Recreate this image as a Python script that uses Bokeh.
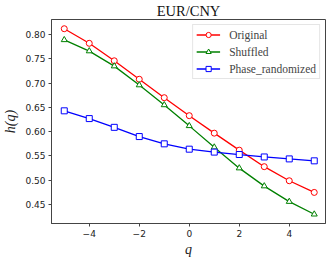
from bokeh.plotting import figure
from bokeh.embed import file_html
from bokeh.resources import INLINE
from bokeh.models import Range1d, FixedTicker, Legend, LegendItem

q = [-5, -4, -3, -2, -1, 0, 1, 2, 3, 4, 5]
original = [0.812, 0.782, 0.746, 0.708, 0.670, 0.633, 0.597, 0.562, 0.528, 0.499, 0.475]
shuffled = [0.789, 0.766, 0.735, 0.696, 0.655, 0.612, 0.568, 0.525, 0.488, 0.456, 0.430]
phase = [0.643, 0.627, 0.609, 0.590, 0.575, 0.564, 0.558, 0.553, 0.548, 0.544, 0.540]
x_ticks = [-4, -2, 0, 2, 4]
y_ticks = [0.45, 0.50, 0.55, 0.60, 0.65, 0.70, 0.75, 0.80]

p = figure(width=331, height=259, output_backend="svg", toolbar_location=None,
           x_range=Range1d(-5.51, 5.45), y_range=Range1d(0.411, 0.831),
           min_border_left=42, min_border_right=6, min_border_top=18, min_border_bottom=30,
           title="EUR/CNY")
p.title.align = "center"
p.title.text_font = "Liberation Serif"
p.title.text_font_size = "14.5px"
p.title.text_font_style = "normal"
p.title.text_color = "#111111"
p.title.offset = 0
p.title.standoff = 1

p.xgrid.visible = False
p.ygrid.visible = False
p.outline_line_color = "#444444"
p.outline_line_width = 1

for ax in (p.xaxis, p.yaxis):
    ax.axis_line_color = "#444444"
    ax.major_tick_line_color = "#444444"
    ax.major_tick_out = 3
    ax.major_tick_in = 0
    ax.minor_tick_line_color = None
    ax.major_label_text_font = "DejaVu Sans"
    ax.major_label_text_font_size = "9px"
    ax.major_label_text_color = "#222222"
    ax.major_label_standoff = 3
    ax.axis_label_text_font = "Liberation Serif"
    ax.axis_label_text_font_style = "italic"
    ax.axis_label_text_font_size = "14px"
    ax.axis_label_text_color = "#222222"

p.xaxis.ticker = FixedTicker(ticks=x_ticks)
p.yaxis.ticker = FixedTicker(ticks=y_ticks)
p.xaxis.major_label_overrides = {t: ("\u2212" + str(-t) if t < 0 else str(t)) for t in x_ticks}
p.yaxis.major_label_overrides = {t: "%.2f" % t for t in y_ticks}
p.xaxis.axis_label = "q"
p.yaxis.axis_label = "h(q)"
p.xaxis.axis_label_standoff = 2
p.yaxis.axis_label_standoff = 4

l1 = p.line(q, original, color="red", line_width=1.3)
m1 = p.scatter(q, original, marker="circle", size=6, line_color="red", fill_color="white", line_width=1)
l2 = p.line(q, shuffled, color="green", line_width=1.3)
m2 = p.scatter(q, shuffled, marker="triangle", size=6, line_color="green", fill_color="white", line_width=1)
l3 = p.line(q, phase, color="blue", line_width=1.3)
m3 = p.scatter(q, phase, marker="square", size=6, line_color="blue", fill_color="white", line_width=1)

legend = Legend(items=[
    LegendItem(label="Original", renderers=[l1, m1]),
    LegendItem(label="Shuffled", renderers=[l2, m2]),
    LegendItem(label="Phase_randomized", renderers=[l3, m3]),
], location="top_right")
legend.label_text_font = "Liberation Serif"
legend.label_text_font_size = "11.5px"
legend.label_height = 13
legend.glyph_height = 13
legend.glyph_width = 24
legend.spacing = 4
legend.padding = 3
legend.margin = 5
legend.label_standoff = 9
legend.border_line_color = "#cccccc"
legend.border_line_width = 1
legend.background_fill_alpha = 0.9
p.add_layout(legend)

open("out.html", "w").write(file_html(p, INLINE))
